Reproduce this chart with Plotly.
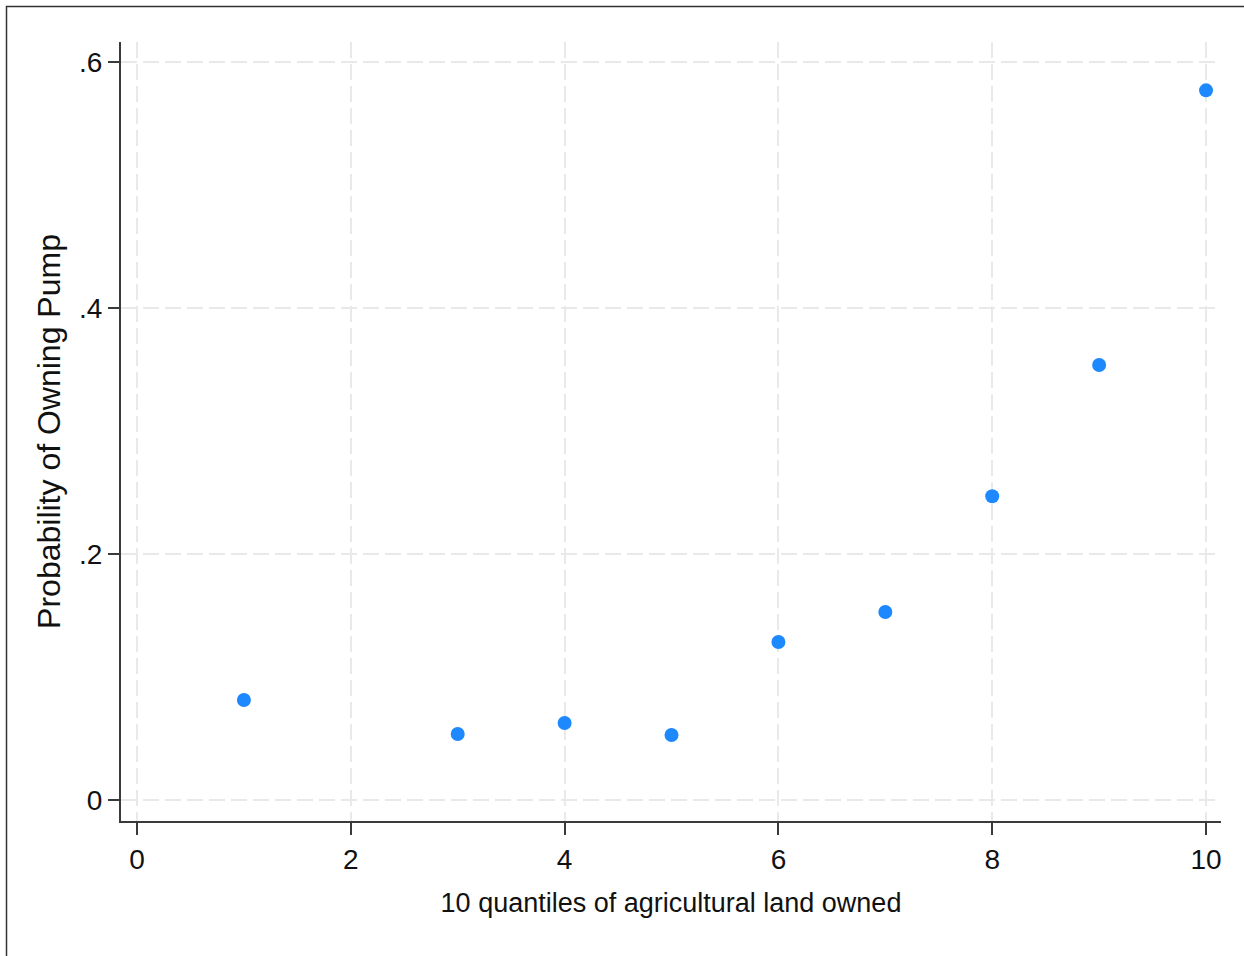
import plotly.graph_objects as go

quantiles = [1, 3, 4, 5, 6, 7, 8, 9, 10]
prob_pump = [0.0813, 0.0537, 0.0626, 0.0528, 0.1285, 0.1528, 0.2470, 0.3537, 0.5770]

x_ticks = [0, 2, 4, 6, 8, 10]
x_ticktext = ["0", "2", "4", "6", "8", "10"]
y_ticks = [0, 0.2, 0.4, 0.6]
y_ticktext = ["0", ".2", ".4", ".6"]

font = "Liberation Sans, Arial, sans-serif"

fig = go.Figure()
fig.add_trace(go.Scatter(
    x=quantiles, y=prob_pump, mode="markers",
    marker=dict(color="rgb(30,136,255)", size=14, line=dict(width=0)),
    showlegend=False, cliponaxis=False,
))

W, H = 1244, 956
L, R, T, B = 121, 23, 42, 135

fig.update_layout(
    width=W, height=H,
    margin=dict(l=L, r=R, t=T, b=B, pad=0),
    paper_bgcolor="white", plot_bgcolor="white",
    xaxis=dict(
        range=[-0.1497, 10.140], tickvals=x_ticks, ticktext=x_ticktext,
        showline=True, linecolor="#3a3a3a", linewidth=2, mirror=False,
        ticks="outside", ticklen=12, tickwidth=2, tickcolor="#3a3a3a",
        showgrid=True, gridcolor="#e9e9e9", gridwidth=2, griddash="16px,6px",
        zeroline=False,
        tickfont=dict(family=font, size=28, color="#111"),
        title=dict(text="10 quantiles of agricultural land owned",
                   font=dict(family=font, size=27, color="#111"), standoff=20),
    ),
    yaxis=dict(
        range=[-0.01707, 0.6163], tickvals=y_ticks, ticktext=y_ticktext,
        showline=True, linecolor="#3a3a3a", linewidth=2, mirror=False,
        ticks="outside", ticklen=11, tickwidth=2, tickcolor="#3a3a3a",
        showgrid=True, gridcolor="#e9e9e9", gridwidth=2, griddash="16px,6px",
        zeroline=False,
        tickfont=dict(family=font, size=28, color="#111"),
        title=dict(text="Probability of Owning Pump",
                   font=dict(family=font, size=32, color="#111"), standoff=9),
    ),
)

pw = W - L - R
ph = H - T - B
fig.add_shape(
    type="rect", xref="paper", yref="paper",
    x0=(6.5 - L) / pw, x1=(W + 20 - L) / pw,
    y0=-((H + 20) - (H - B)) / ph, y1=((H - B) - 6.5) / ph,
    line=dict(color="#333", width=1.5), fillcolor="rgba(0,0,0,0)", layer="above",
)

fig.write_html("out.html", config={"displayModeBar": False},
               post_script="document.body.style.margin='0';")
